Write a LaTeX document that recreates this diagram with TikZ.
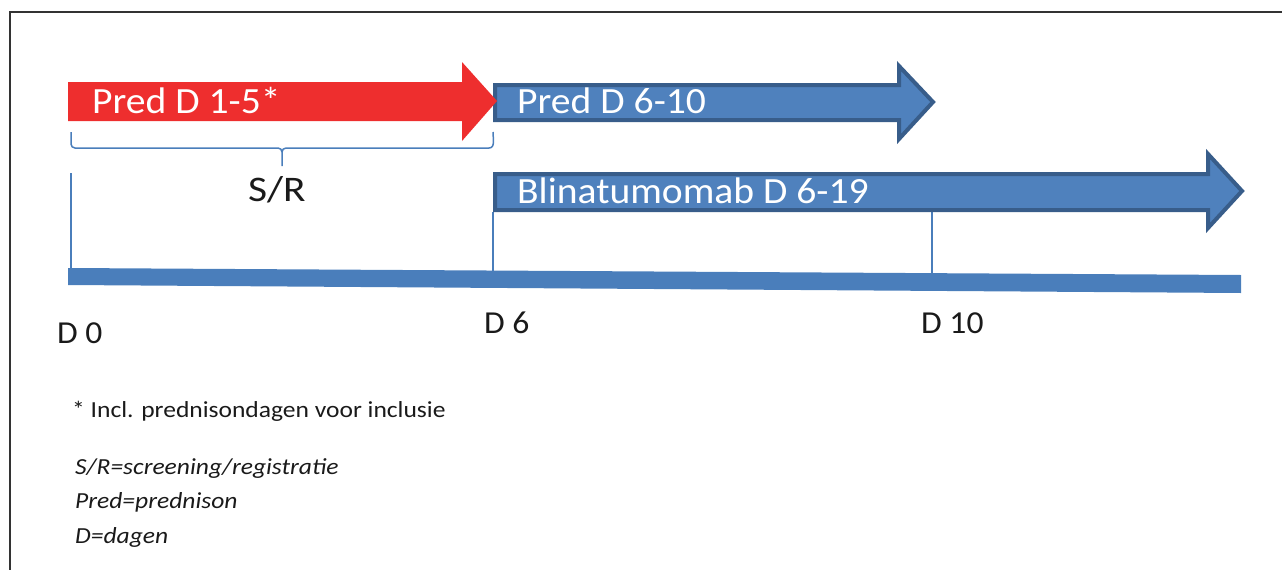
\documentclass[tikz,border=0pt]{standalone}
\usepackage{fontspec}
\setmainfont{Carlito}
\newfontfamily\bigfont[FakeStretch=1.07]{Carlito}
\newfontfamily\labfont[FakeStretch=1.05]{Carlito}
\newfontfamily\srfont[FakeStretch=1.15]{Carlito}
\newfontfamily\notefont[FakeStretch=1.11]{Carlito}
\definecolor{redarrow}{HTML}{EE2E2E}
\definecolor{bluefill}{HTML}{4F81BD}
\definecolor{blueedge}{HTML}{385D8A}
\definecolor{barblue}{HTML}{4A7EBB}
\definecolor{frame}{HTML}{333333}
\definecolor{txt}{HTML}{1A1A1A}
\tikzset{
  bigwhite/.style={text=white, anchor=base west, inner sep=0pt, font=\bigfont\fontsize{37}{40}\selectfont},
  label/.style={text=txt, anchor=base west, inner sep=0pt, font=\labfont\fontsize{32}{36}\selectfont},
  srlabel/.style={label, font=\srfont\fontsize{36}{40}\selectfont},
  note/.style={text=txt, anchor=base west, inner sep=0pt, font=\notefont\fontsize{23}{26}\selectfont},
  inote/.style={note, font=\notefont\fontsize{23}{26}\selectfont\itshape},
  thin/.style={draw=barblue, line width=1.5pt},
  bluearrow/.style={fill=bluefill, draw=blueedge, line width=4pt, line join=miter}
}
\begin{document}
\begin{tikzpicture}[x=1pt,y=-1pt]
\useasboundingbox (0,0) rectangle (1282,570);
% frame
\draw[frame, line width=1.5pt] (10,570) -- (10,12) -- (1282,12);
% timeline bar
\fill[barblue] (68,268) -- (1241,275) -- (1241,293) -- (68,285) -- cycle;
% vertical ticks
\coordinate (d0top) at (71,173);
\coordinate (d0bot) at (71,270);
\coordinate (d6top) at (493,212);
\coordinate (d6bot) at (493,271);
\coordinate (d10top) at (932,212);
\coordinate (d10bot) at (932,274);
\draw[thin] (d0top) -- (d0bot);
\draw[thin] (d6top) -- (d6bot);
\draw[thin] (d10top) -- (d10bot);
% brace
\coordinate (bl) at (71,132);
\coordinate (br) at (493,132);
\coordinate (bm) at (282,166);
\draw[thin, line join=round] (bl) -- (71,144) to[out=-90,in=180] (75,148) -- (278,148) to[out=0,in=90] (282,152) -- (bm);
\draw[thin, line join=round] (282,152) to[out=90,in=180] (286,148) -- (489,148) to[out=0,in=-90] (br);
% blue arrows
\draw[bluearrow] (495,85) -- (899,85) -- (899,66) -- (933,102) -- (899,139) -- (899,120) -- (495,120) -- cycle;
\draw[bluearrow] (495,174) -- (1208,174) -- (1208,154) -- (1242,191) -- (1208,228) -- (1208,210) -- (495,210) -- cycle;
% red arrow
\fill[redarrow] (68,82) -- (462,82) -- (462,62) -- (497,101) -- (462,141) -- (462,121) -- (68,121) -- cycle;
% texts
\node[bigwhite] (pred1) at (92,113) {Pred D 1-5*};
\node[bigwhite] (pred2) at (517,113) {Pred D 6-10};
\node[bigwhite] (blin) at (517,203) {Blinatumomab D 6-19};
\node[srlabel] (sr) at (248,201) {S/R};
\node[label] (D0) at (57,343) {D 0};
\node[label] (D6) at (484,333) {D 6};
\node[label] (D10) at (921,333) {D 10};
\node[note] (incl) at (72,417) {* Incl. prednisondagen voor inclusie};
\node[inote] (n1) at (75,474) {S/R=screening/registratie};
\node[inote] (n2) at (75,508) {Pred=prednison};
\node[inote] (n3) at (75,543) {D=dagen};
\end{tikzpicture}
\end{document}
